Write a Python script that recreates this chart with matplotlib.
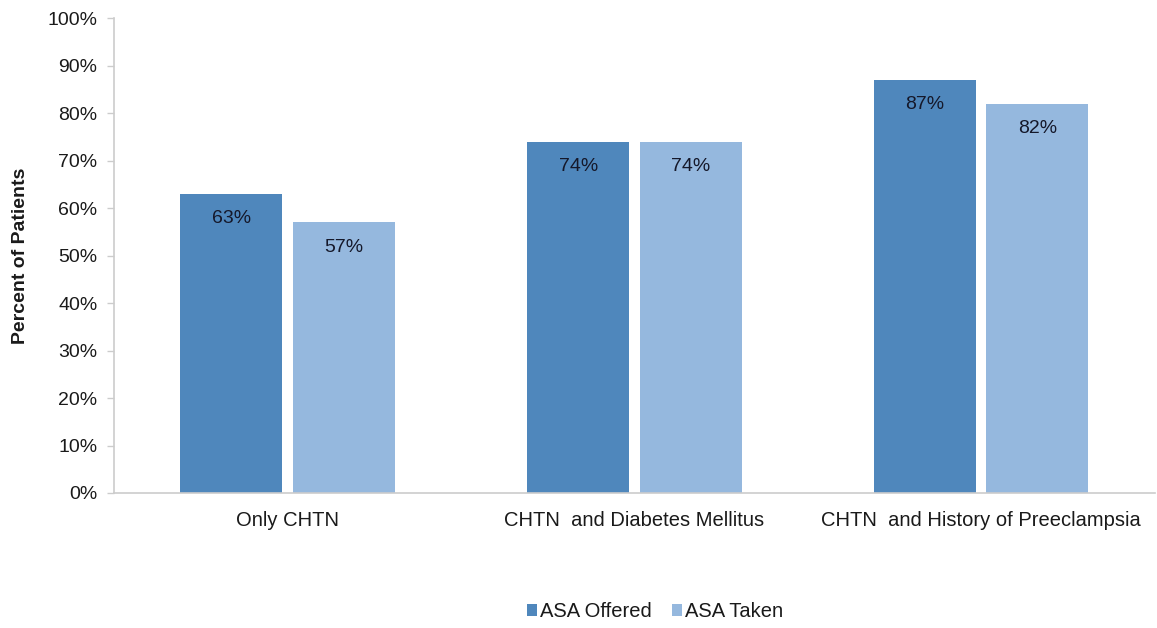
import numpy as np
import matplotlib

matplotlib.use("Agg")
import matplotlib.pyplot as plt
from matplotlib.ticker import PercentFormatter

categories = ["Only CHTN", "CHTN  and Diabetes Mellitus", "CHTN  and History of Preeclampsia"]
asa_offered = [63, 74, 87]
asa_taken = [57, 74, 82]
series_names = ["ASA Offered", "ASA Taken"]

plt.rcParams["font.family"] = ["Liberation Sans", "DejaVu Sans"]

fig = plt.figure(figsize=(11.57, 6.28), dpi=100)
ax = fig.add_axes([0.0985, 0.215, 0.8995, 0.756])

x = np.arange(len(categories))
width = 0.294
off = 0.162
colors = ["#4f87bc", "#95b8de"]
edge = "#cccccc"
txt = "#1a1a1a"

b1 = ax.bar(x - off, asa_offered, width, color=colors[0], label=series_names[0])
b2 = ax.bar(x + off, asa_taken, width, color=colors[1], label=series_names[1])

# value labels just inside the top of each bar
for bars in (b1, b2):
    for rect in bars:
        h = rect.get_height()
        ax.annotate(f"{h:.0f}%", (rect.get_x() + rect.get_width() / 2, h),
                    xytext=(0, -25), textcoords="offset pixels",
                    ha="center", va="center", fontsize=14, color="#15182a")

ax.set_xlim(-0.5, 2.5)
ax.set_ylim(0, 100)
ax.set_yticks(np.arange(0, 101, 10))
ax.yaxis.set_major_formatter(PercentFormatter(decimals=0))
ax.set_xticks(x)
ax.set_xticklabels(categories)
ax.tick_params(axis="x", length=0, pad=13, labelsize=14.5, colors=txt)
ax.tick_params(axis="y", length=5, width=1, color=edge, pad=7, labelsize=14,
               labelcolor=txt)

for s in ("top", "right"):
    ax.spines[s].set_visible(False)
for s in ("left", "bottom"):
    ax.spines[s].set_color(edge)
    ax.spines[s].set_linewidth(1.2)

ax.set_ylabel("Percent of Patients", fontsize=14, fontweight="bold", color=txt)
ax.yaxis.set_label_coords(-0.082, 0.5)

fig.legend(handles=[b1, b2], labels=series_names, loc="center", bbox_to_anchor=(0.566, 0.026),
           ncol=2, frameon=False, fontsize=14.5, handlelength=0.5, handleheight=0.5,
           handletextpad=0.15, columnspacing=1.0, labelcolor=txt)

fig.savefig("out.png", dpi=100)
